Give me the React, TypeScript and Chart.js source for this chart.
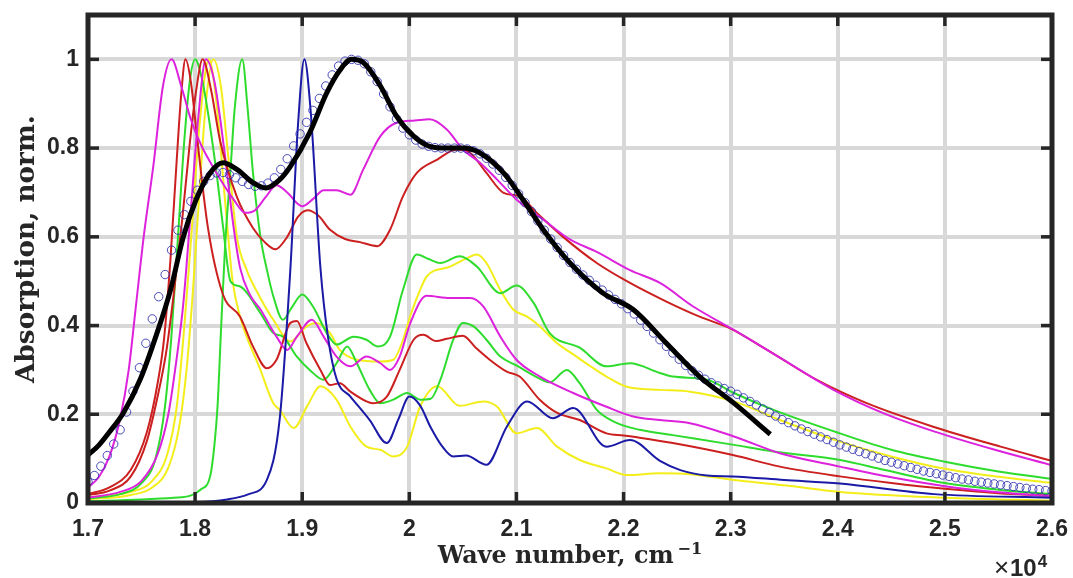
import React, { useEffect, useRef } from "react";
import { Chart, registerables } from "chart.js";
Chart.register(...registerables);

type P = [number, number][];

const xTicks = [1.7, 1.8, 1.9, 2.0, 2.1, 2.2, 2.3, 2.4, 2.5, 2.6];
const xTickLabels = ["1.7", "1.8", "1.9", "2", "2.1", "2.2", "2.3", "2.4", "2.5", "2.6"];
const yTicks = [0, 0.2, 0.4, 0.6, 0.8, 1.0];
const yTickLabels = ["0", "0.2", "0.4", "0.6", "0.8", "1"];

const xTitle = "Wave number, cm";
const xTitleSup = "\u22121";
const yTitle = "Absorption, norm.";

const blackFit: P = [
  [1.700, 0.108], [1.710, 0.130], [1.720, 0.160], [1.733, 0.203], [1.749, 0.280], [1.764, 0.380],
  [1.777, 0.480], [1.789, 0.600], [1.801, 0.684], [1.814, 0.744], [1.826, 0.767], [1.839, 0.752],
  [1.854, 0.722], [1.866, 0.710], [1.879, 0.729], [1.889, 0.759], [1.907, 0.835], [1.923, 0.925],
  [1.935, 0.975], [1.946, 1.000], [1.957, 0.993], [1.973, 0.940], [1.988, 0.872], [2.004, 0.827],
  [2.019, 0.804], [2.035, 0.800], [2.050, 0.800], [2.066, 0.789], [2.088, 0.744], [2.106, 0.684],
  [2.125, 0.616], [2.150, 0.541], [2.181, 0.473], [2.209, 0.436], [2.240, 0.360], [2.271, 0.285],
  [2.303, 0.225], [2.337, 0.155],
];

const circles: P = [
  [1.700, 0.048], [1.706, 0.062], [1.712, 0.083], [1.718, 0.107], [1.724, 0.133], [1.730, 0.165],
  [1.736, 0.205], [1.742, 0.252], [1.748, 0.305], [1.754, 0.360], [1.760, 0.415], [1.766, 0.465],
  [1.772, 0.515], [1.778, 0.570], [1.784, 0.615], [1.790, 0.650], [1.796, 0.680], [1.802, 0.705],
  [1.808, 0.725], [1.814, 0.738], [1.820, 0.744], [1.826, 0.745], [1.832, 0.740], [1.838, 0.733],
  [1.844, 0.725], [1.850, 0.718], [1.856, 0.714], [1.862, 0.715], [1.868, 0.721], [1.874, 0.733],
  [1.880, 0.752], [1.886, 0.776], [1.892, 0.805], [1.898, 0.832], [1.904, 0.858], [1.910, 0.885],
  [1.916, 0.912], [1.922, 0.940], [1.928, 0.965], [1.934, 0.985], [1.940, 0.996], [1.946, 1.000],
  [1.952, 0.998], [1.958, 0.990], [1.964, 0.972], [1.970, 0.950], [1.976, 0.922], [1.982, 0.893],
  [1.988, 0.866], [1.994, 0.845], [2.000, 0.830], [2.006, 0.818], [2.012, 0.809], [2.018, 0.804],
  [2.024, 0.801], [2.030, 0.800], [2.036, 0.800], [2.042, 0.800], [2.048, 0.800], [2.054, 0.798],
  [2.060, 0.794], [2.066, 0.787], [2.072, 0.777], [2.078, 0.764], [2.084, 0.750], [2.090, 0.734],
  [2.096, 0.716], [2.102, 0.697], [2.108, 0.677], [2.114, 0.657], [2.120, 0.636], [2.126, 0.615],
  [2.132, 0.595], [2.138, 0.576], [2.144, 0.558], [2.150, 0.542], [2.156, 0.527], [2.162, 0.514],
  [2.168, 0.502], [2.174, 0.491], [2.180, 0.480], [2.186, 0.469], [2.192, 0.459], [2.198, 0.449],
  [2.204, 0.438], [2.210, 0.426], [2.216, 0.412], [2.222, 0.398], [2.228, 0.383], [2.234, 0.368],
  [2.240, 0.353], [2.246, 0.338], [2.252, 0.324], [2.258, 0.310], [2.264, 0.298], [2.270, 0.288],
  [2.276, 0.279], [2.282, 0.271], [2.288, 0.264], [2.294, 0.258], [2.300, 0.252], [2.306, 0.245],
  [2.312, 0.237], [2.318, 0.229], [2.324, 0.221], [2.330, 0.212], [2.336, 0.204], [2.342, 0.196],
  [2.348, 0.188], [2.354, 0.181], [2.360, 0.174], [2.366, 0.167], [2.372, 0.161], [2.378, 0.155],
  [2.384, 0.149], [2.390, 0.143], [2.396, 0.137], [2.402, 0.131], [2.408, 0.126], [2.414, 0.121],
  [2.420, 0.116], [2.426, 0.111], [2.432, 0.106], [2.438, 0.101], [2.444, 0.096], [2.450, 0.092],
  [2.456, 0.088], [2.462, 0.084], [2.468, 0.080], [2.474, 0.076], [2.480, 0.072], [2.486, 0.069],
  [2.492, 0.066], [2.498, 0.063], [2.504, 0.060], [2.510, 0.057], [2.516, 0.054], [2.522, 0.052],
  [2.528, 0.049], [2.534, 0.047], [2.540, 0.045], [2.546, 0.043], [2.552, 0.041], [2.558, 0.039],
  [2.564, 0.037], [2.570, 0.035], [2.576, 0.033], [2.582, 0.031], [2.588, 0.030], [2.594, 0.028],
  [2.600, 0.027],
];

const magentaA: P = [
  [1.700, 0.035], [1.710, 0.058], [1.720, 0.105], [1.730, 0.190], [1.738, 0.300], [1.745, 0.450],
  [1.752, 0.600], [1.761, 0.760], [1.770, 0.940], [1.778, 1.000], [1.787, 0.940], [1.796, 0.865],
  [1.805, 0.810], [1.820, 0.744], [1.836, 0.684], [1.847, 0.654], [1.856, 0.660], [1.866, 0.690],
  [1.876, 0.716], [1.886, 0.700], [1.900, 0.669], [1.910, 0.685], [1.920, 0.705], [1.932, 0.705],
  [1.945, 0.695], [1.957, 0.752], [1.973, 0.827], [1.988, 0.857], [2.005, 0.862], [2.019, 0.865],
  [2.035, 0.842], [2.050, 0.797], [2.066, 0.767], [2.082, 0.729], [2.100, 0.684], [2.125, 0.639],
  [2.150, 0.594], [2.175, 0.566], [2.206, 0.525], [2.234, 0.496], [2.265, 0.443], [2.303, 0.390],
  [2.349, 0.323], [2.396, 0.255], [2.443, 0.202], [2.489, 0.162], [2.545, 0.121], [2.600, 0.085],
];

const redA: P = [
  [1.700, 0.018], [1.720, 0.028], [1.740, 0.060], [1.755, 0.140], [1.765, 0.240], [1.773, 0.340],
  [1.780, 0.470], [1.788, 0.640], [1.795, 0.810], [1.801, 0.930], [1.807, 1.000], [1.815, 0.930],
  [1.823, 0.820], [1.839, 0.690], [1.854, 0.620], [1.865, 0.588], [1.875, 0.572], [1.886, 0.600],
  [1.896, 0.645], [1.905, 0.660], [1.915, 0.648], [1.926, 0.616], [1.940, 0.595], [1.954, 0.588],
  [1.970, 0.579], [1.982, 0.616], [1.994, 0.691], [2.007, 0.744], [2.026, 0.774], [2.044, 0.797],
  [2.057, 0.789], [2.072, 0.744], [2.088, 0.699], [2.103, 0.691], [2.119, 0.654], [2.143, 0.601],
  [2.175, 0.541], [2.206, 0.496], [2.240, 0.454], [2.271, 0.420], [2.299, 0.394], [2.334, 0.345],
  [2.380, 0.278], [2.427, 0.225], [2.489, 0.172], [2.552, 0.127], [2.600, 0.095],
];

const redB: P = [
  [1.700, 0.020], [1.720, 0.035], [1.740, 0.075], [1.755, 0.160], [1.765, 0.270], [1.771, 0.370],
  [1.777, 0.550], [1.783, 0.780], [1.787, 0.920], [1.791, 1.000], [1.796, 0.950], [1.802, 0.820],
  [1.812, 0.620], [1.826, 0.470], [1.842, 0.420], [1.854, 0.353], [1.867, 0.304], [1.876, 0.323],
  [1.889, 0.406], [1.895, 0.410], [1.904, 0.360], [1.917, 0.300], [1.926, 0.266], [1.935, 0.270],
  [1.945, 0.251], [1.960, 0.229], [1.966, 0.225], [1.979, 0.240], [1.991, 0.300], [2.004, 0.368],
  [2.013, 0.379], [2.025, 0.365], [2.035, 0.370], [2.050, 0.377], [2.062, 0.350], [2.075, 0.323],
  [2.091, 0.296], [2.103, 0.285], [2.122, 0.232], [2.138, 0.203], [2.159, 0.187], [2.184, 0.157],
  [2.200, 0.152], [2.215, 0.147], [2.246, 0.135], [2.302, 0.108], [2.346, 0.082], [2.402, 0.060],
  [2.450, 0.045], [2.500, 0.032], [2.550, 0.022], [2.600, 0.016],
];

const magentaB: P = [
  [1.700, 0.012], [1.730, 0.025], [1.750, 0.050], [1.765, 0.110], [1.775, 0.200], [1.783, 0.330],
  [1.789, 0.450], [1.796, 0.660], [1.803, 0.870], [1.810, 1.000], [1.818, 0.950], [1.827, 0.800],
  [1.836, 0.620], [1.842, 0.530], [1.851, 0.470], [1.861, 0.436], [1.876, 0.375], [1.886, 0.345],
  [1.895, 0.375], [1.909, 0.413], [1.920, 0.375], [1.932, 0.330], [1.945, 0.308], [1.960, 0.330],
  [1.973, 0.315], [1.982, 0.300], [1.991, 0.330], [2.001, 0.406], [2.016, 0.467], [2.038, 0.462],
  [2.057, 0.462], [2.069, 0.443], [2.085, 0.375], [2.100, 0.323], [2.122, 0.285], [2.153, 0.248],
  [2.184, 0.217], [2.209, 0.195], [2.234, 0.187], [2.262, 0.180], [2.303, 0.150], [2.346, 0.112],
  [2.402, 0.082], [2.450, 0.058], [2.500, 0.038], [2.550, 0.024], [2.600, 0.015],
];

const greenA: P = [
  [1.700, 0.004], [1.750, 0.008], [1.780, 0.012], [1.795, 0.016], [1.805, 0.030], [1.814, 0.060],
  [1.818, 0.130], [1.821, 0.220], [1.824, 0.380], [1.828, 0.580], [1.833, 0.750], [1.837, 0.890],
  [1.844, 1.000], [1.849, 0.890], [1.854, 0.745], [1.861, 0.600], [1.867, 0.526], [1.873, 0.466],
  [1.882, 0.413], [1.890, 0.440], [1.900, 0.470], [1.910, 0.443], [1.923, 0.383], [1.932, 0.357],
  [1.948, 0.375], [1.960, 0.368], [1.970, 0.353], [1.982, 0.375], [1.994, 0.480], [2.007, 0.560],
  [2.018, 0.550], [2.029, 0.541], [2.047, 0.556], [2.063, 0.533], [2.085, 0.473], [2.100, 0.490],
  [2.116, 0.451], [2.131, 0.383], [2.159, 0.350], [2.184, 0.308], [2.206, 0.315], [2.234, 0.293],
  [2.246, 0.285], [2.278, 0.278], [2.303, 0.248], [2.340, 0.210], [2.402, 0.157], [2.450, 0.120],
  [2.500, 0.093], [2.550, 0.071], [2.600, 0.054],
];

const greenB: P = [
  [1.700, 0.010], [1.730, 0.020], [1.750, 0.045], [1.763, 0.100], [1.772, 0.220], [1.778, 0.380],
  [1.784, 0.600], [1.790, 0.820], [1.795, 0.950], [1.800, 1.000], [1.806, 0.960], [1.811, 0.895],
  [1.820, 0.744], [1.826, 0.624], [1.833, 0.500], [1.842, 0.488], [1.861, 0.428], [1.873, 0.383],
  [1.882, 0.375], [1.895, 0.330], [1.907, 0.300], [1.920, 0.278], [1.932, 0.315], [1.942, 0.353],
  [1.951, 0.315], [1.963, 0.255], [1.973, 0.225], [1.985, 0.233], [1.998, 0.248], [2.010, 0.233],
  [2.020, 0.235], [2.029, 0.278], [2.041, 0.368], [2.050, 0.406], [2.060, 0.398], [2.072, 0.368],
  [2.085, 0.330], [2.100, 0.310], [2.122, 0.280], [2.131, 0.272], [2.147, 0.300], [2.159, 0.270],
  [2.175, 0.210], [2.194, 0.180], [2.215, 0.165], [2.246, 0.153], [2.303, 0.131], [2.340, 0.116],
  [2.402, 0.097], [2.443, 0.075], [2.500, 0.045], [2.550, 0.030], [2.600, 0.020],
];

const yellowA: P = [
  [1.700, 0.008], [1.740, 0.018], [1.760, 0.035], [1.775, 0.080], [1.785, 0.170], [1.792, 0.300],
  [1.798, 0.480], [1.804, 0.700], [1.810, 0.900], [1.817, 1.000], [1.824, 0.940], [1.831, 0.780],
  [1.839, 0.600], [1.848, 0.526], [1.860, 0.466], [1.873, 0.413], [1.889, 0.364], [1.904, 0.398],
  [1.913, 0.406], [1.926, 0.383], [1.935, 0.345], [1.951, 0.323], [1.973, 0.319], [1.985, 0.323],
  [1.993, 0.360], [2.002, 0.430], [2.010, 0.480], [2.016, 0.510], [2.038, 0.533], [2.054, 0.552],
  [2.063, 0.560], [2.072, 0.541], [2.085, 0.480], [2.097, 0.436], [2.110, 0.420], [2.122, 0.398],
  [2.138, 0.360], [2.153, 0.335], [2.168, 0.310], [2.184, 0.285], [2.203, 0.262], [2.234, 0.255],
  [2.262, 0.251], [2.303, 0.229], [2.346, 0.187], [2.400, 0.140], [2.450, 0.105], [2.500, 0.077],
  [2.550, 0.059], [2.600, 0.045],
];

const yellowB: P = [
  [1.700, 0.012], [1.740, 0.025], [1.760, 0.050], [1.774, 0.110], [1.783, 0.220], [1.790, 0.400],
  [1.797, 0.620], [1.804, 0.850], [1.813, 1.000], [1.820, 0.900], [1.828, 0.680], [1.835, 0.500],
  [1.842, 0.420], [1.861, 0.300], [1.873, 0.225], [1.879, 0.210], [1.892, 0.169], [1.905, 0.220],
  [1.917, 0.263], [1.932, 0.233], [1.945, 0.172], [1.960, 0.127], [1.973, 0.120], [1.985, 0.105],
  [1.998, 0.127], [2.010, 0.217], [2.026, 0.263], [2.047, 0.219], [2.069, 0.229], [2.082, 0.217],
  [2.100, 0.157], [2.119, 0.169], [2.138, 0.127], [2.159, 0.097], [2.184, 0.078], [2.203, 0.063],
  [2.234, 0.067], [2.262, 0.065], [2.303, 0.052], [2.350, 0.040], [2.402, 0.025], [2.500, 0.012],
  [2.600, 0.005],
];

const blue: P = [
  [1.700, 0.000], [1.800, 0.002], [1.830, 0.008], [1.850, 0.020], [1.867, 0.052], [1.879, 0.190],
  [1.889, 0.530], [1.896, 0.850], [1.902, 1.000], [1.908, 0.880], [1.917, 0.530], [1.924, 0.375],
  [1.932, 0.280], [1.945, 0.240], [1.963, 0.187], [1.979, 0.135], [1.990, 0.190], [2.000, 0.240],
  [2.010, 0.220], [2.020, 0.170], [2.030, 0.130], [2.041, 0.105], [2.053, 0.107], [2.072, 0.086],
  [2.091, 0.172], [2.110, 0.229], [2.134, 0.191], [2.153, 0.214], [2.184, 0.127], [2.206, 0.142],
  [2.234, 0.095], [2.253, 0.074], [2.278, 0.062], [2.302, 0.060], [2.350, 0.052], [2.402, 0.044],
  [2.490, 0.020], [2.600, 0.012],
];

const MAGENTA = "#dd22dd";
const RED = "#cc1f1f";
const GREEN = "#2ddc2d";
const YELLOW = "#f3ee1a";
const BLUE = "#1a1aa6";
const FRAME = "#262626";

const toXY = (p: P) => p.map(([x, y]) => ({ x, y }));

function lineDs(data: P, color: string, width = 2) {
  return {
    data: toXY(data),
    borderColor: color,
    borderWidth: width,
    pointRadius: 0,
    fill: false,
    cubicInterpolationMode: "monotone",
  };
}

function fitSize(ctx: CanvasRenderingContext2D, text: string, family: string, target: number) {
  ctx.font = `bold 20px ${family}`;
  const w = ctx.measureText(text).width;
  return (20 * target) / w;
}

const framePlugin = {
  id: "frameTitles",
  afterDraw(chart: any) {
    const { ctx, chartArea: a, scales } = chart;
    const xs = scales.x;
    const ys = scales.y;
    ctx.save();
    ctx.strokeStyle = FRAME;
    ctx.lineCap = "butt";
    ctx.lineWidth = 3.5;
    const seg = (x1: number, y1: number, x2: number, y2: number) => {
      ctx.beginPath();
      ctx.moveTo(x1, y1);
      ctx.lineTo(x2, y2);
      ctx.stroke();
    };
    for (const v of xTicks) {
      const px = xs.getPixelForValue(v);
      seg(px, a.bottom, px, a.bottom - 11);
      seg(px, a.top, px, a.top + 11);
    }
    for (const v of yTicks) {
      const py = ys.getPixelForValue(v);
      seg(a.left, py, a.left + 11, py);
      seg(a.right, py, a.right - 11, py);
    }
    ctx.lineWidth = 5;
    ctx.strokeRect(a.left, a.top, a.right - a.left, a.bottom - a.top);

    // titles
    const serif = "'DejaVu Serif', 'Liberation Serif', serif";
    ctx.fillStyle = FRAME;
    const xs1 = fitSize(ctx, xTitle, serif, 236);
    ctx.textAlign = "left";
    ctx.textBaseline = "alphabetic";
    const cx = (a.left + a.right) / 2;
    ctx.font = `bold ${xs1 * 0.68}px ${serif}`;
    const supW = ctx.measureText(xTitleSup).width;
    ctx.font = `bold ${xs1}px ${serif}`;
    const mainW = ctx.measureText(xTitle).width;
    const total = mainW + 4 + supW;
    const x0 = cx - total / 2;
    ctx.fillText(xTitle, x0, 563);
    ctx.font = `bold ${xs1 * 0.68}px ${serif}`;
    ctx.fillText(xTitleSup, x0 + mainW + 4, 554);

    // y title
    const ys1 = fitSize(ctx, yTitle, serif, 268);
    ctx.font = `bold ${ys1}px ${serif}`;
    ctx.save();
    ctx.translate(34, 249);
    ctx.rotate(-Math.PI / 2);
    ctx.textAlign = "center";
    ctx.textBaseline = "alphabetic";
    ctx.fillText(yTitle, 0, 0);
    ctx.restore();

    // exponent label
    const sans = "'Liberation Sans', Arial, sans-serif";
    ctx.textAlign = "left";
    ctx.font = `26px ${sans}`;
    ctx.fillText("\u00d7", 994, 576);
    ctx.font = `bold 24px ${sans}`;
    ctx.fillText("10", 1010, 576);
    const w10 = ctx.measureText("10").width;
    ctx.font = `bold 17px ${sans}`;
    ctx.fillText("4", 1010 + w10 + 1, 567);
    ctx.restore();
  },
};

export default function App() {
  const ref = useRef<HTMLCanvasElement | null>(null);
  useEffect(() => {
    if (!ref.current) return;
    const tickFont = { family: "'Liberation Sans', Arial, sans-serif", size: 23, weight: "bold" };
    const zeroPad = (s: any) => {
      s.paddingTop = 0;
      s.paddingBottom = 0;
      s.paddingLeft = 0;
      s.paddingRight = 0;
    };
    const chart = new Chart(ref.current, {
      type: "line",
      data: {
        datasets: [
          lineDs(blackFit, "#000000", 5),
          {
            data: toXY(circles),
            showLine: false,
            pointRadius: 4.2,
            pointBorderWidth: 1,
            pointBorderColor: "rgba(45,45,175,0.85)",
            pointBackgroundColor: "rgba(0,0,0,0)",
          },
          lineDs(blue, BLUE),
          lineDs(magentaA, MAGENTA),
          lineDs(redA, RED),
          lineDs(magentaB, MAGENTA),
          lineDs(redB, RED),
          lineDs(greenA, GREEN),
          lineDs(greenB, GREEN),
          lineDs(yellowA, YELLOW),
          lineDs(yellowB, YELLOW),
        ] as any,
      },
      options: {
        responsive: false,
        animation: false,
        devicePixelRatio: 1,
        layout: { padding: { top: 15, right: 21, left: 0, bottom: 0 } },
        plugins: {
          legend: { display: false },
          tooltip: { enabled: false },
          title: { display: false },
        },
        scales: {
          x: {
            type: "linear",
            min: 1.7,
            max: 2.6,
            afterBuildTicks: (s: any) => {
              s.ticks = xTicks.map((v) => ({ value: v }));
            },
            afterFit: (s: any) => {
              s.height = 75;
              zeroPad(s);
            },
            ticks: {
              callback: (_v: any, i: number) => xTickLabels[i],
              font: tickFont,
              color: FRAME,
              padding: 13,
              maxRotation: 0,
              autoSkip: false,
            },
            grid: { color: "#d8d8d8", lineWidth: 4, drawTicks: false },
            border: { display: false },
          },
          y: {
            type: "linear",
            min: 0,
            max: 1.1,
            afterBuildTicks: (s: any) => {
              s.ticks = yTicks.map((v) => ({ value: v }));
            },
            afterFit: (s: any) => {
              s.width = 88;
              zeroPad(s);
            },
            ticks: {
              callback: (_v: any, i: number) => yTickLabels[i],
              font: tickFont,
              color: FRAME,
              padding: 9,
              autoSkip: false,
            },
            grid: { color: "#d8d8d8", lineWidth: 4, drawTicks: false },
            border: { display: false },
          },
        },
      } as any,
      plugins: [framePlugin],
    });
    return () => chart.destroy();
  }, []);
  return (
    <div style={{ position: "fixed", left: 0, top: 0, width: 1073, height: 578, background: "#fff" }}>
      <canvas ref={ref} width={1073} height={578} style={{ width: 1073, height: 578, display: "block" }} />
    </div>
  );
}
